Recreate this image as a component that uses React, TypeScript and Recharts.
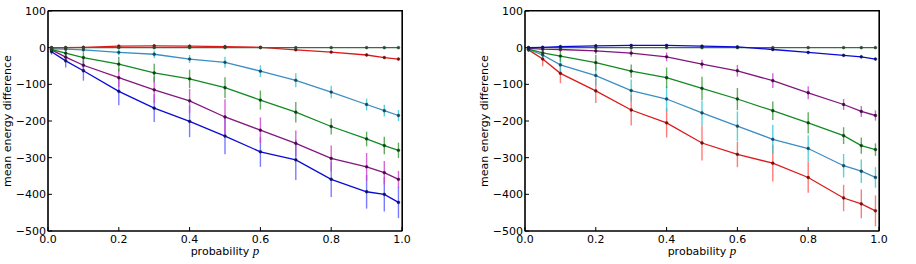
import React from "react";
import { LineChart, Line, XAxis, YAxis, ErrorBar, ReferenceArea } from "recharts";

// probabilities sampled on the x axis
const probs = [0.01, 0.05, 0.1, 0.2, 0.3, 0.4, 0.5, 0.6, 0.7, 0.8, 0.9, 0.95, 0.99];
const xTicks = [0, 0.2, 0.4, 0.6, 0.8, 1.0];
const yTicks = [-500, -400, -300, -200, -100, 0, 100];

// left panel
const leftBlue = [-11, -36, -63, -119, -165, -201, -241, -284, -306, -359, -393, -400, -422];
const leftBlueErr = [8, 18, 27, 38, 38, 43, 50, 41, 55, 48, 46, 47, 43];
const leftPurple = [-6, -26, -48, -82, -115, -145, -189, -225, -261, -302, -325, -341, -359];
const leftPurpleErr = [5, 12, 18, 25, 36, 33, 48, 35, 35, 35, 38, 32, 23];
const leftGreen = [-5, -15, -27, -45, -69, -85, -109, -143, -176, -215, -249, -267, -280];
const leftGreenErr = [4, 10, 14, 20, 25, 25, 28, 26, 28, 22, 20, 24, 21];
const leftSteel = [-3, -4, -6, -13, -18, -31, -40, -64, -89, -121, -155, -172, -185];
const leftSteelErr = [3, 5, 7, 8, 10, 11, 15, 16, 19, 17, 16, 16, 15];
const leftRed = [0, 0, 1, 4, 5, 4, 3, 1, -6, -12, -20, -27, -31];
const leftRedErr = [2, 3, 4, 4, 4, 4, 3, 3, 3, 3, 4, 4, 4];
const leftFlat = [0, 0, 0, 0, 0, 0, 0, 0, 0, 0, 0, 0, 0];

// right panel
const rightBlue = [0, 1, 3, 5, 6, 6, 4, 2, -5, -13, -21, -25, -31];
const rightBlueErr = [2, 3, 4, 4, 4, 4, 3, 3, 3, 3, 4, 4, 4];
const rightPurple = [-2, -4, -5, -9, -15, -25, -45, -63, -90, -123, -155, -174, -185];
const rightPurpleErr = [3, 5, 6, 8, 10, 12, 12, 16, 20, 18, 15, 15, 14];
const rightGreen = [-4, -14, -23, -41, -64, -82, -111, -140, -172, -205, -240, -267, -278];
const rightGreenErr = [4, 10, 15, 22, 18, 28, 32, 30, 25, 29, 23, 22, 17];
const rightSteel = [-5, -20, -47, -76, -117, -140, -178, -214, -250, -275, -322, -337, -354];
const rightSteelErr = [4, 10, 20, 28, 30, 35, 34, 40, 40, 36, 32, 32, 28];
const rightRed = [-6, -31, -70, -118, -170, -205, -260, -291, -315, -354, -410, -426, -445];
const rightRedErr = [6, 20, 27, 33, 42, 40, 48, 35, 50, 42, 36, 39, 42];
const rightFlat = [0, 0, 0, 0, 0, 0, 0, 0, 0, 0, 0, 0, 0];

const C = {
  blue: { line: "#0a0ad8", err: "#5a5aff", dot: "#101060" },
  purple: { line: "#82167f", err: "#d040d0", dot: "#401040" },
  green: { line: "#118a22", err: "#3a9a3a", dot: "#104018" },
  steel: { line: "#3a8ec4", err: "#30c8d0", dot: "#1a4860" },
  red: { line: "#dc1a1a", err: "#ff5a5a", dot: "#701010" },
  flat: { line: "#3f6a44", err: "#3f6a44", dot: "#264a2c" },
};

type S = { key: string; vals: number[]; errs: number[]; col: { line: string; err: string; dot: string } };

const leftSeries: S[] = [
  { key: "blue", vals: leftBlue, errs: leftBlueErr, col: C.blue },
  { key: "purple", vals: leftPurple, errs: leftPurpleErr, col: C.purple },
  { key: "green", vals: leftGreen, errs: leftGreenErr, col: C.green },
  { key: "steel", vals: leftSteel, errs: leftSteelErr, col: C.steel },
  { key: "red", vals: leftRed, errs: leftRedErr, col: C.red },
  { key: "flat", vals: leftFlat, errs: leftFlat, col: C.flat },
];

const rightSeries: S[] = [
  { key: "red", vals: rightRed, errs: rightRedErr, col: C.red },
  { key: "steel", vals: rightSteel, errs: rightSteelErr, col: C.steel },
  { key: "green", vals: rightGreen, errs: rightGreenErr, col: C.green },
  { key: "purple", vals: rightPurple, errs: rightPurpleErr, col: C.purple },
  { key: "flat", vals: rightFlat, errs: rightFlat, col: C.flat },
  { key: "blue", vals: rightBlue, errs: rightBlueErr, col: C.blue },
];

const FONT = "DejaVu Sans";
const tickStyle = { fill: "#000", fontSize: 11, fontFamily: FONT };
const fmtY = (v: number) => (v < 0 ? "\u2212" + Math.abs(v) : String(v));

// plot box inside each 458x264 chart
const PLOT = { left: 48, top: 11, width: 354, height: 220 };

function Panel({ series }: { series: S[] }) {
  const data = probs.map((p, i) => {
    const row: Record<string, number> = { p };
    series.forEach((s) => {
      row[s.key] = s.vals[i];
      row[s.key + "Err"] = s.errs[i];
    });
    return row;
  });

  return (
    <div style={{ position: "relative", width: 458, height: 264 }}>
      <LineChart
        width={458}
        height={264}
        data={data}
        margin={{ top: PLOT.top, right: 458 - PLOT.left - PLOT.width, bottom: 0, left: 0 }}
      >
        <ReferenceArea
          x1={0}
          x2={1}
          y1={-500}
          y2={100}
          fill="#fff"
          fillOpacity={0}
          stroke="#000"
          strokeWidth={1.2}
          strokeOpacity={1}
          ifOverflow="extendDomain"
        />
        <XAxis
          dataKey="p"
          type="number"
          domain={[0, 1]}
          ticks={xTicks}
          tickFormatter={(v: number) => v.toFixed(1)}
          height={264 - PLOT.top - PLOT.height}
          tickSize={-4}
          tickMargin={8}
          stroke="#000"
          tick={tickStyle}
          interval={0}
          label={{
            content: () => (
              <text x={225} y={255} textAnchor="middle" fontFamily={FONT} fontSize={11} fill="#000">
                probability{" "}
                <tspan fontFamily="Liberation Serif" fontStyle="italic" fontSize={13}>
                  p
                </tspan>
              </text>
            ),
          }}
        />
        <YAxis
          type="number"
          domain={[-500, 100]}
          ticks={yTicks}
          tickFormatter={fmtY}
          width={PLOT.left}
          tickSize={-4}
          tickMargin={6}
          stroke="#000"
          tick={tickStyle}
          interval={0}
          label={{
            content: () => (
              <text
                x={7}
                y={121}
                transform="rotate(-90 7 121)"
                textAnchor="middle"
                dominantBaseline="central"
                fontFamily={FONT}
                fontSize={11}
                fill="#000"
              >
                mean energy difference
              </text>
            ),
          }}
        />
        {series.map((s) => (
          <Line
            key={s.key}
            dataKey={s.key}
            stroke={s.col.line}
            strokeWidth={1.3}
            dot={{ r: 1.4, fill: s.col.dot, stroke: s.col.dot, strokeWidth: 0.5 }}
            activeDot={false}
            isAnimationActive={false}
          >
            <ErrorBar dataKey={s.key + "Err"} width={0} stroke={s.col.err} strokeWidth={1.4} strokeOpacity={0.8} />
          </Line>
        ))}
      </LineChart>
      {/* frame round the plot area */}
      <div
        style={{
          position: "absolute",
          left: PLOT.left,
          top: PLOT.top - 1,
          width: PLOT.width + 1,
          height: PLOT.height + 1,
          borderTop: "1.5px solid #000",
          borderRight: "1.5px solid #000",
          boxSizing: "border-box",
          pointerEvents: "none",
          zIndex: 5,
        }}
      />
    </div>
  );
}

export default function App() {
  return (
    <div style={{ position: "absolute", left: 0, top: 0, width: 916, height: 264, background: "#fff" }}>
      <div style={{ position: "absolute", left: 0, top: 0 }}>
        <Panel series={leftSeries} />
      </div>
      <div style={{ position: "absolute", left: 477, top: 0 }}>
        <Panel series={rightSeries} />
      </div>
    </div>
  );
}
